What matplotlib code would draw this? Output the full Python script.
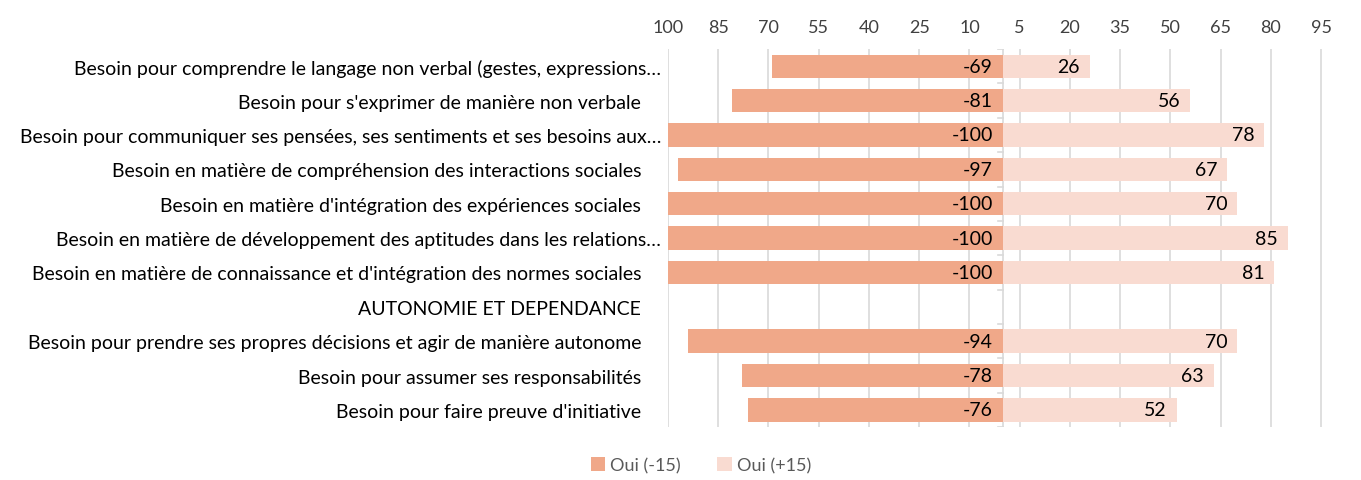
import numpy as np
import matplotlib.pyplot as plt

# categories, top to bottom (trailing spaces as in the source sheet)
pad = "    "
categories = [
    "Besoin pour comprendre le langage non verbal (gestes, expressions…",
    "Besoin pour s'exprimer de manière non verbale" + pad,
    "Besoin pour communiquer ses pensées, ses sentiments et ses besoins aux…",
    "Besoin en matière de compréhension des interactions sociales" + pad,
    "Besoin en matière d'intégration des expériences sociales" + pad,
    "Besoin en matière de développement des aptitudes dans les relations…",
    "Besoin en matière de connaissance et d'intégration des normes sociales" + pad,
    "AUTONOMIE ET DEPENDANCE" + pad,
    "Besoin pour prendre ses propres décisions et agir de manière autonome" + pad,
    "Besoin pour assumer ses responsabilités" + pad,
    "Besoin pour faire preuve d'initiative" + pad,
]
oui_moins = [-69, -81, -100, -97, -100, -100, -100, np.nan, -94, -78, -76]
oui_plus = [26, 56, 78, 67, 70, 85, 81, np.nan, 70, 63, 52]
xticks = list(range(-100, 100, 15))
xticklabels = [str(abs(t)) for t in xticks]

c_neg = '#F0A889'
c_pos = '#F9DBD1'
grid_c = '#D9D9D9'

plt.rcParams['font.family'] = ['Lato', 'DejaVu Sans']

fig = plt.figure(figsize=(13.61, 4.81), dpi=100)
ax = fig.add_axes([0.4908, 0.110, 0.4922, 0.786])

y = np.arange(len(categories))
ax.barh(y, oui_moins, height=0.68, color=c_neg, label='Oui (-15)', zorder=2)
ax.barh(y, oui_plus, height=0.68, color=c_pos, label='Oui (+15)', zorder=2)

for yi, v in zip(y, oui_moins):
    if not np.isnan(v):
        ax.text(-3, yi, f"{v:.0f}", ha='right', va='center', fontsize=14, color='black', zorder=3)
for yi, v in zip(y, oui_plus):
    if not np.isnan(v):
        ax.text(v - 3, yi, f"{v:.0f}", ha='right', va='center', fontsize=14, color='black', zorder=3)

ax.set_xlim(-100, 100)
ax.set_ylim(len(categories) - 0.5, -0.5)
ax.set_xticks(xticks)
ax.set_xticklabels(xticklabels)
ax.xaxis.tick_top()
ax.tick_params(axis='x', length=0, pad=10, labelsize=13, labelcolor='#404040')
ax.set_yticks(y)
ax.set_yticklabels(categories)
ax.tick_params(axis='y', length=0, pad=5, labelsize=14)

ax.grid(axis='x', color=grid_c, linewidth=1.2, zorder=0)
ax.axvline(0, color=grid_c, linewidth=1.2, zorder=1)
# small tick marks on the zero line between categories
for b in np.arange(-0.5, len(categories), 1.0):
    ax.plot([-1.6, 0], [b, b], color=grid_c, linewidth=1.2, zorder=1)
for s in ax.spines.values():
    s.set_visible(False)

fig.legend(loc='center', bbox_to_anchor=(0.515, 0.03), ncol=2, frameon=False,
           fontsize=13, handlelength=0.8, handleheight=0.8, columnspacing=2,
           handletextpad=0.3, labelcolor='#595959')

fig.savefig('out.png', dpi=100)
